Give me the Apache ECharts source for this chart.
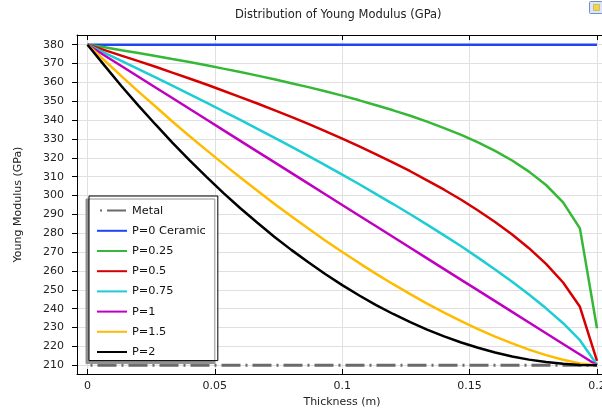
<!DOCTYPE html>
<html><head><meta charset="utf-8">
<script src="https://cdn.jsdelivr.net/npm/echarts@6/dist/echarts.min.js"></script>
<style>html,body{margin:0;padding:0;background:#fff}#c{width:602px;height:409px}</style>
</head><body><div id="c"></div>
<script>
// Thickness coordinate (m)
const thickness = [0, 0.0067, 0.0133, 0.02, 0.0267, 0.0333, 0.04, 0.0467, 0.0533, 0.06,
  0.0667, 0.0733, 0.08, 0.0867, 0.0933, 0.1, 0.1067, 0.1133, 0.12, 0.1267,
  0.1333, 0.14, 0.1467, 0.1533, 0.16, 0.1667, 0.1733, 0.18, 0.1867, 0.1933, 0.2];

const metal = [210, 210, 210, 210, 210, 210, 210, 210, 210, 210, 210, 210, 210, 210, 210, 210,
  210, 210, 210, 210, 210, 210, 210, 210, 210, 210, 210, 210, 210, 210, 210];
const ceramic = [380, 380, 380, 380, 380, 380, 380, 380, 380, 380, 380, 380, 380, 380, 380, 380,
  380, 380, 380, 380, 380, 380, 380, 380, 380, 380, 380, 380, 380, 380, 380];
const p025 = [380, 378.6, 377.1, 375.6, 374.0, 372.4, 370.8, 369.1, 367.3, 365.5,
  363.6, 361.7, 359.6, 357.5, 355.3, 353.0, 350.5, 347.9, 345.2, 342.3,
  339.2, 335.8, 332.2, 328.2, 323.7, 318.6, 312.7, 305.6, 296.4, 282.6, 229.6];
const p05 = [380, 377.1, 374.2, 371.3, 368.3, 365.2, 362.1, 358.9, 355.6, 352.2,
  348.8, 345.3, 341.7, 338.0, 334.2, 330.2, 326.1, 321.9, 317.5, 312.9,
  308.1, 303.1, 297.8, 292.1, 286.0, 279.4, 272.1, 263.8, 253.9, 241.0, 212.3];
const p075 = [380, 375.7, 371.4, 367.1, 362.7, 358.3, 353.8, 349.3, 344.7, 340.1,
  335.4, 330.7, 325.9, 321.0, 316.1, 311.1, 306.0, 300.8, 295.5, 290.1,
  284.6, 278.9, 273.1, 267.1, 260.8, 254.3, 247.5, 240.2, 232.3, 223.3, 210.3];
const p1 = [380, 374.3, 368.7, 363.0, 357.3, 351.7, 346.0, 340.3, 334.7, 329.0,
  323.3, 317.7, 312.0, 306.3, 300.7, 295.0, 289.3, 283.7, 278.0, 272.3,
  266.7, 261.0, 255.3, 249.7, 244.0, 238.3, 232.7, 227.0, 221.3, 215.7, 210];
const p15 = [380, 371.6, 363.3, 355.1, 347.2, 339.3, 331.6, 324.1, 316.8, 309.6,
  302.5, 295.7, 289.0, 282.5, 276.2, 270.1, 264.2, 258.5, 253.0, 247.7,
  242.7, 237.9, 233.4, 229.2, 225.2, 221.6, 218.3, 215.4, 212.9, 211.0, 210];
const p2 = [380, 368.9, 358.1, 347.7, 337.7, 328.1, 318.8, 309.9, 301.4, 293.3,
  285.6, 278.2, 271.2, 264.6, 258.4, 252.5, 247.0, 241.9, 237.2, 232.9,
  228.9, 225.3, 222.1, 219.3, 216.8, 214.7, 213.0, 211.7, 210.8, 210.2, 210];

const seriesNames = ['Metal', 'P=0 Ceramic', 'P=0.25', 'P=0.5', 'P=0.75', 'P=1', 'P=1.5', 'P=2'];
const xTicks = [0, 0.05, 0.1, 0.15, 0.2];
const yTicks = [210, 220, 230, 240, 250, 260, 270, 280, 290, 300, 310, 320, 330, 340, 350, 360, 370, 380];

const seriesValues = [metal, ceramic, p025, p05, p075, p1, p15, p2];
const colors = ['#6a6a6a', '#1f45f5', '#35b835', '#d60000', '#1ccdd4', '#c000c0', '#ffbb00', '#000000'];

const FONT = 'DejaVu Sans';
const xMin = -0.00412, xMax = 0.20393;
const yMin = 205.38, yMax = 385.14;

const series = seriesValues.map((vals, k) => ({
  name: seriesNames[k],
  type: 'line',
  symbol: 'none',
  showSymbol: false,
  animation: false,
  data: thickness.map((x, i) => [x, vals[i]]),
  lineStyle: k === 0
    ? { color: colors[k], width: 3, type: [19, 5, 2, 5], dashOffset: 21 }
    : { color: colors[k], width: 2.5 },
  itemStyle: { color: colors[k] },
  z: 2 + k
}));

const chart = echarts.init(document.getElementById('c'), null, { renderer: 'canvas' });
chart.setOption({
  animation: false,
  backgroundColor: '#ffffff',
  textStyle: { fontFamily: FONT },
  title: {
    text: 'Distribution of Young Modulus (GPa)',
    left: 235, top: 9, padding: 0,
    textStyle: { fontFamily: FONT, fontSize: 11.5, fontWeight: 'normal', color: '#222' }
  },
  graphic: [{
    type: 'group', left: 589, top: 1, children: [
      { type: 'rect', shape: { x: 0, y: 0, width: 13, height: 12, r: 1 },
        style: { fill: '#dbe7f7', stroke: '#6d8fc4', lineWidth: 1 } },
      { type: 'rect', shape: { x: 4, y: 3, width: 6, height: 6 },
        style: { fill: '#f3d54a', stroke: '#b59a2a', lineWidth: 0.5 } }
    ]
  }],
  grid: { left: 77, top: 35, width: 530, height: 339, containLabel: false, outerBoundsMode: 'none' },
  legend: {
    orient: 'vertical',
    left: 89, top: 196,
    padding: [9, 12, 3, 7],
    itemGap: 9, itemWidth: 30, itemHeight: 14,
    backgroundColor: '#ffffff',
    borderColor: '#000', borderWidth: 1,
    shadowColor: '#909090', shadowBlur: 0, shadowOffsetX: -3, shadowOffsetY: 3,
    itemStyle: { opacity: 0, color: 'rgba(0,0,0,0)', borderWidth: 0 },
    textStyle: { fontFamily: FONT, fontSize: 11.3, color: '#111' },
    data: seriesNames
  },
  xAxis: [{
    type: 'value', min: xMin, max: xMax,
    name: 'Thickness (m)', nameLocation: 'middle', nameGap: 22,
    nameTextStyle: { fontFamily: FONT, fontSize: 11, color: '#222' },
    axisLine: { show: true, onZero: false, lineStyle: { color: '#000', width: 1 } },
    axisTick: { show: true, inside: true, length: 5, customValues: xTicks, lineStyle: { color: '#000' } },
    axisLabel: { show: true, margin: 7, customValues: xTicks, fontFamily: FONT, fontSize: 11, color: '#222',
      formatter: v => String(v) },
    splitLine: { show: true, lineStyle: { color: '#e0e0e0', width: 1 } }
  }, {
    type: 'value', min: xMin, max: xMax, position: 'top',
    axisLine: { show: true, onZero: false, lineStyle: { color: '#000', width: 1 } },
    axisTick: { show: true, inside: true, length: 5, customValues: xTicks, lineStyle: { color: '#000' } },
    axisLabel: { show: false },
    splitLine: { show: false }
  }],
  yAxis: [{
    type: 'value', min: yMin, max: yMax,
    name: 'Young Modulus (GPa)', nameLocation: 'middle', nameGap: 53,
    nameTextStyle: { fontFamily: FONT, fontSize: 11, color: '#222' },
    axisLine: { show: true, onZero: false, lineStyle: { color: '#000', width: 1 } },
    axisTick: { show: true, inside: false, length: 5, customValues: yTicks, lineStyle: { color: '#000' } },
    axisLabel: { show: true, margin: 13, customValues: yTicks, fontFamily: FONT, fontSize: 11, color: '#222' },
    splitLine: { show: true, lineStyle: { color: '#e0e0e0', width: 1 } }
  }],
  series: series
});
</script>
</body></html>
